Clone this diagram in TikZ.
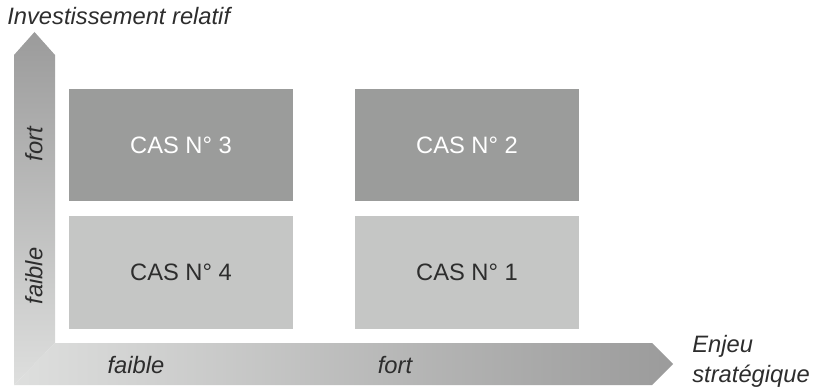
\documentclass[tikz,border=0pt]{standalone}
\usepackage{fontspec}
\setmainfont{Liberation Sans}
\usetikzlibrary{positioning,calc}
\definecolor{casdark}{RGB}{155,156,155}
\definecolor{caslight}{RGB}{197,198,197}
\definecolor{axisdark}{RGB}{155,155,155}
\definecolor{axislight}{RGB}{222,223,222}
\definecolor{txtdark}{RGB}{45,45,45}
\tikzset{
  casbox/.style={minimum width=4.48cm,minimum height=2.26cm,inner sep=0pt,
    font=\fontsize{13.5}{16}\selectfont},
  darkcas/.style={casbox,fill=casdark,text=white},
  lightcas/.style={casbox,fill=caslight,text=txtdark},
  axislabel/.style={font=\fontsize{13.5}{16}\selectfont\itshape,text=txtdark,inner sep=0pt},
}

\begin{document}
\begin{tikzpicture}[x=0.02cm,y=-0.02cm]
                \useasboundingbox (0,0) rectangle (813,391);

                % Axes
                \shade[top color=axisdark,bottom color=axislight]
                    (14,385) -- (14,55) -- (34.5,32) -- (55,55) -- (55,343) -- cycle;
                \shade[left color=axislight,right color=axisdark]
                    (14,385) -- (55,343) -- (652,343) -- (673,364) -- (652,385) -- cycle;

                \node[axislabel,anchor=west] (yname) at (7,16) {Investissement relatif};
                \node[axislabel,anchor=west,align=left] (xname) at (692,361)
                    {Enjeu\\[1pt]strat\'egique};

                % Cases
                \node[darkcas] (cas3) at (181,145) {CAS N° 3};
                \node[darkcas] (cas2) at (467,145) {CAS N° 2};
                \node[lightcas] (cas4) at (181,272.5) {CAS N° 4};
                \node[lightcas] (cas1) at (467,272.5) {CAS N° 1};

                % Graduations
                \node[axislabel,rotate=90] (yfort) at (34,144) {fort};
                \node[axislabel,rotate=90] (yfaible) at (34,276) {faible};
                \node[axislabel] (xfaible) at (136,365) {faible};
                \node[axislabel] (xfort) at (395,365) {fort};
            \end{tikzpicture}
\end{document}
